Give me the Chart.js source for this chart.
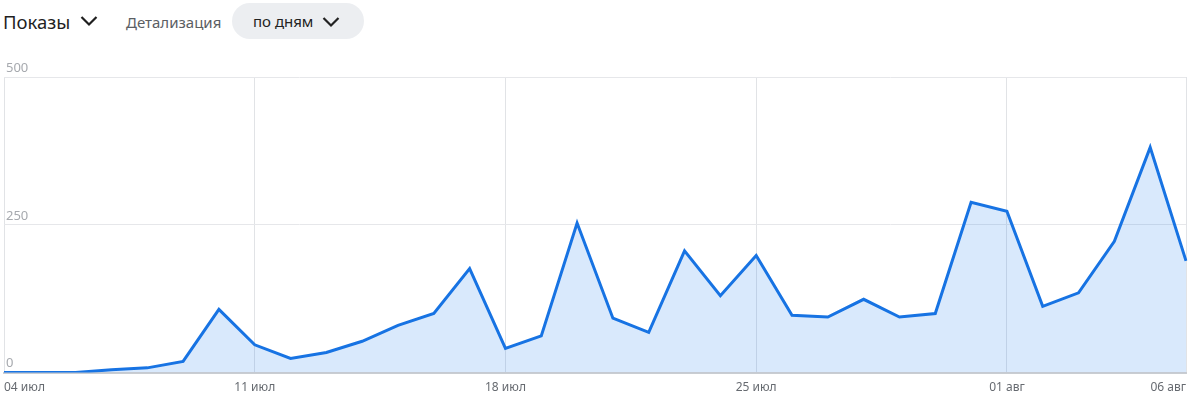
<!DOCTYPE html>
<html lang="ru">
<head>
    <meta charset="UTF-8">
    <script src="https://cdn.jsdelivr.net/npm/chart.js"></script>
    <title>Показы</title>
    <style>
        body { margin: 0; width: 1200px; height: 405px; background: #fff; font-family: "Noto Sans", "Open Sans", sans-serif; overflow: hidden; position: relative; }
        .cabecalho { position: absolute; left: 0; top: 0; height: 42px; width: 1200px; }
        .titulo { position: absolute; left: 3px; top: 7px; font-size: 18.5px; color: #1f1f1f; line-height: 30px; }
        .seta { position: absolute; }
        .detalhe { position: absolute; left: 126px; top: 7px; font-size: 15px; color: #5b5e63; line-height: 30px; }
        .pilula { position: absolute; left: 232px; top: 3px; width: 132px; height: 36px; border-radius: 18px; background: #eceef1; }
        .pilula span { position: absolute; left: 21px; top: 3px; font-size: 15px; color: #222; line-height: 30px; }
        .grafico { position: absolute; left: 0; top: 60px; width: 1200px; height: 345px; }
    </style>
</head>
<body>

<div class="cabecalho">
    <div class="titulo">Показы</div>
    <svg class="seta" style="left:80px;top:15px" width="18" height="12"><polyline points="1.5,2 9,9.5 16.5,2" fill="none" stroke="#1f1f1f" stroke-width="2.2"/></svg>
    <div class="detalhe">Детализация</div>
    <div class="pilula">
        <span>по дням</span>
        <svg class="seta" style="left:90px;top:13px" width="18" height="12"><polyline points="1.5,2 9,9.5 16.5,2" fill="none" stroke="#222" stroke-width="2.2"/></svg>
    </div>
</div>

<div class="grafico">
    <canvas id="grafico_pokazy"></canvas>
</div>

<script>

    // дни периода
    const dias = [
        '04 июл', '05 июл', '06 июл', '07 июл', '08 июл', '09 июл', '10 июл',
        '11 июл', '12 июл', '13 июл', '14 июл', '15 июл', '16 июл', '17 июл',
        '18 июл', '19 июл', '20 июл', '21 июл', '22 июл', '23 июл', '24 июл',
        '25 июл', '26 июл', '27 июл', '28 июл', '29 июл', '30 июл', '31 июл',
        '01 авг', '02 авг', '03 авг', '04 авг', '05 авг', '06 авг'
    ];
    // показы по дням
    const pokazy = [
        0, 0, 0, 5, 8, 19, 107,
        47, 24, 34, 53, 80, 100, 176,
        41, 62, 253, 92, 68, 206, 130,
        198, 97, 94, 124, 94, 100, 288,
        273, 112, 135, 222, 381, 189
    ];
    // подписи оси X, которые видны
    const diasVisiveis = ['04 июл', '11 июл', '18 июл', '25 июл', '01 авг', '06 авг'];
    // деления оси Y
    const ticksY = [0, 250, 500];

    const graficoPokazy = document.getElementById('grafico_pokazy');

    new Chart(graficoPokazy, {
        type: 'line',
        data: {
            labels: dias,
            datasets: [{
                label: 'Показы',
                data: pokazy,
                borderColor: '#1773e3',
                backgroundColor: 'rgba(30,125,235,0.17)',
                borderWidth: 3,
                fill: 'origin',
                tension: 0,
                pointRadius: 0
            }]
        },
        options: {
            responsive: true,
            maintainAspectRatio: false,
            animation: false,
            layout: { padding: { left: 0, right: 14, top: 17, bottom: 10 } },
            plugins: { legend: { display: false }, tooltip: { enabled: false } },
            scales: {
                x: {
                    offset: false,
                    border: { display: true, color: '#c9cdd2', width: 2 },
                    grid: {
                        drawTicks: true,
                        tickLength: 8,
                        tickColor: 'transparent',
                        color: (ctx) => diasVisiveis.includes(dias[ctx.index]) ? '#e1e3e6' : 'transparent',
                        lineWidth: 1
                    },
                    ticks: {
                        autoSkip: false,
                        maxRotation: 0,
                        align: 'inner',
                        padding: 0,
                        color: '#666a70',
                        font: { family: 'Noto Sans', size: 12 },
                        callback: function (valor, indice) {
                            return diasVisiveis.includes(dias[indice]) ? dias[indice] : '';
                        }
                    }
                },
                y: {
                    min: ticksY[0],
                    max: ticksY[ticksY.length - 1],
                    border: { display: false },
                    afterBuildTicks: (eixo) => { eixo.ticks = ticksY.map(v => ({ value: v })); },
                    grid: { drawTicks: false, color: '#e6e7ea', lineWidth: 1 },
                    ticks: {
                        mirror: true,
                        padding: 2,
                        labelOffset: -9,
                        color: '#a6a9ae',
                        font: { family: 'Noto Sans', size: 13 }
                    }
                }
            }
        }
    });

</script>
</body>
</html>
